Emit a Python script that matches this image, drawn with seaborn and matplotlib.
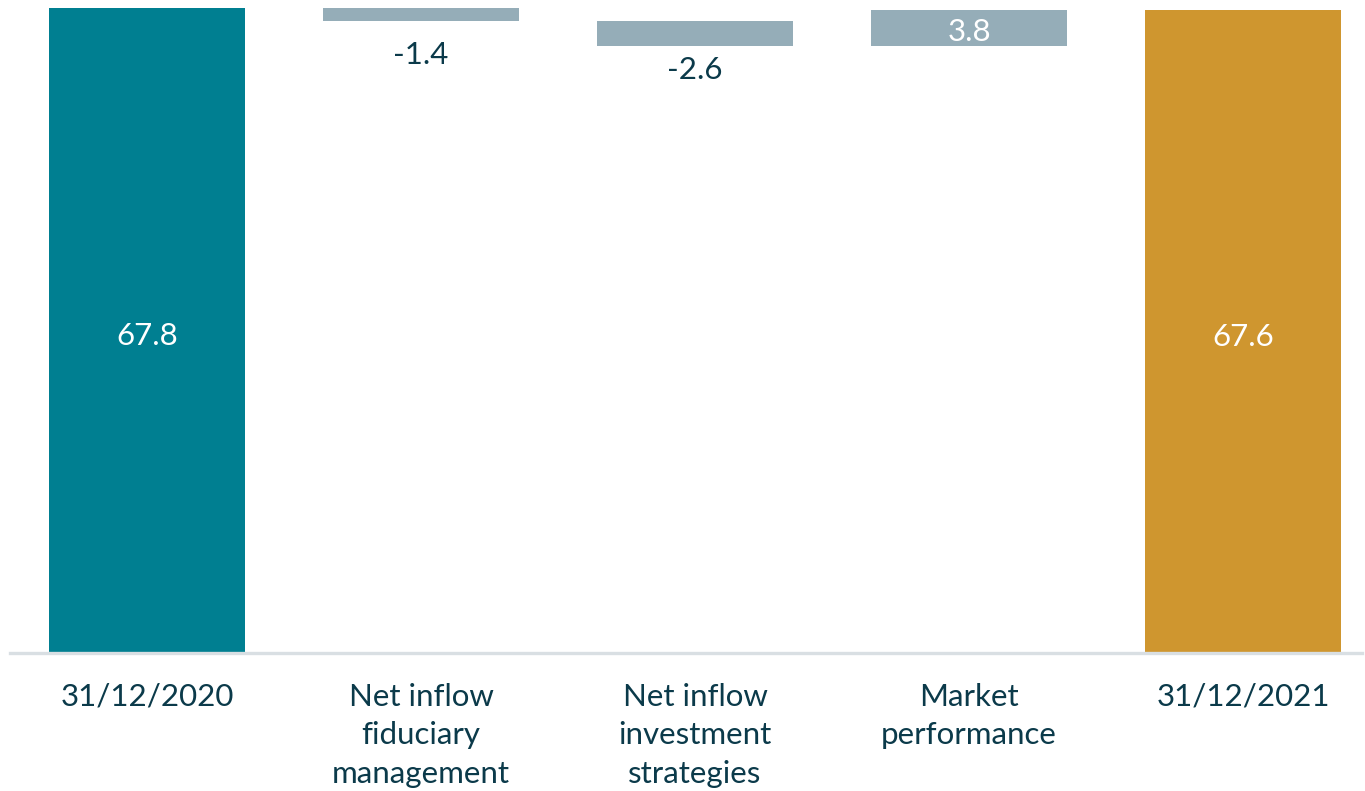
import numpy as np
import pandas as pd
import matplotlib
matplotlib.use("Agg")
import matplotlib.pyplot as plt
import seaborn as sns

# Assets under management bridge (EUR bn)
categories = ["31/12/2020", "Net inflow\nfiduciary\nmanagement",
              "Net inflow\ninvestment\nstrategies", "Market\nperformance", "31/12/2021"]
changes = [67.8, -1.4, -2.6, 3.8, 67.6]
kinds = ["total", "delta", "delta", "delta", "total"]
bar_colors = ["#007f91", "#95adb8", "#95adb8", "#95adb8", "#cf962f"]
label_colors = ["white", "#0b3a4a", "#0b3a4a", "white", "white"]
label_offsets = [0, 14, 7, 0, 0]  # points below a falling step

# floating bottoms for the waterfall steps
bottoms = []
running = 0.0
for v, k in zip(changes, kinds):
    if k == "total":
        bottoms.append(0.0)
        running = v
    else:
        bottoms.append(running)
        running += v

df = pd.DataFrame({"category": categories, "change": changes})

sns.set_theme(style="white")
plt.rcParams["font.family"] = ["Lato", "DejaVu Sans"]

fig = plt.figure(figsize=(13.65, 7.91), dpi=100)
ax = fig.add_axes([10 / 1365, (791 - 653) / 791, 1352 / 1365, 645 / 791])

sns.barplot(data=df, x="category", y="change", bottom=bottoms, width=0.715,
            color=bar_colors[0], saturation=1, ax=ax)
for patch, c in zip(ax.patches, bar_colors):
    patch.set_facecolor(c)
    patch.set_edgecolor("none")
    patch.set_clip_on(False)

ax.set_xlim(-0.5, 4.434)
ax.set_ylim(0, 67.8)

# value labels
for i, (v, b, k) in enumerate(zip(changes, bottoms, kinds)):
    if k == "total":
        ax.annotate(f"{v:.1f}", xy=(i, v / 2), xytext=(0, -2), textcoords="offset points",
                    ha="center", va="center_baseline",
                    color=label_colors[i], fontsize=22.5)
    elif v < 0:
        ax.annotate(f"{v:.1f}", xy=(i, b + v), xytext=(0, -label_offsets[i]),
                    textcoords="offset points", ha="center", va="top",
                    color=label_colors[i], fontsize=22.5)
    else:
        ax.annotate(f"{v:.1f}", xy=(i, b + v / 2), xytext=(0, -1), textcoords="offset points",
                    ha="center", va="center_baseline",
                    color=label_colors[i], fontsize=22.5)

ax.set_xlabel("")
ax.set_ylabel("")
ax.set_yticks([])
ax.tick_params(axis="x", length=0, pad=21.5, labelsize=22.5, labelcolor="#0b3a4a")
for lbl in ax.get_xticklabels():
    lbl.set_linespacing(1.46)

for side in ["top", "left", "right"]:
    ax.spines[side].set_visible(False)
ax.spines["bottom"].set_color("#d9dfe3")
ax.spines["bottom"].set_linewidth(2.4)

fig.savefig("out.png", dpi=100, facecolor="white")
